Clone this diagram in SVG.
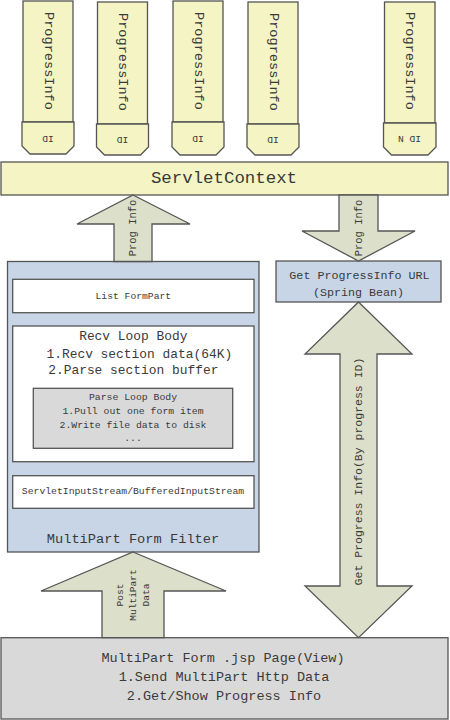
<svg xmlns="http://www.w3.org/2000/svg" width="450" height="720" viewBox="0 0 450 720">
<style>
text{font-family:"Liberation Mono","DejaVu Sans Mono",monospace;fill:#3a3a3a;text-anchor:middle;dominant-baseline:central}
.yel{fill:#F4F4C4;stroke:#555;stroke-width:1.3}
.blue{fill:#C8D5E6;stroke:#555;stroke-width:1.3}
.wht{fill:#fff;stroke:#555;stroke-width:1.3}
.gry{fill:#D9D9D9;stroke:#555;stroke-width:1.3}
.arr{fill:#DCDFC9;stroke:#555;stroke-width:1.3}
.pi{font-size:13.6px}
.id{font-size:9.6px}
</style>
<rect width="450" height="720" fill="#fff"/>
<g id="pinfo1">
<rect class="yel" x="23" y="1" width="50" height="121"/>
<polygon class="yel" points="22,122 74,122 74,146 66,154 30,154 22,146"/>
<text class="pi" transform="translate(48,61) rotate(90)">ProgressInfo</text>
<text class="id" transform="translate(48,138) rotate(180)">ID</text>
</g>
<g id="pinfo2">
<rect class="yel" x="97.5" y="2" width="50" height="122"/>
<polygon class="yel" points="96.5,124 148.5,124 148.5,147 140.5,155 104.5,155 96.5,147"/>
<text class="pi" transform="translate(122.5,62) rotate(90)">ProgressInfo</text>
<text class="id" transform="translate(122.5,139) rotate(180)">ID</text>
</g>
<g id="pinfo3">
<rect class="yel" x="173" y="1" width="50" height="121"/>
<polygon class="yel" points="172,122 224,122 224,147 216,155 180,155 172,147"/>
<text class="pi" transform="translate(198,61) rotate(90)">ProgressInfo</text>
<text class="id" transform="translate(198,138) rotate(180)">ID</text>
</g>
<g id="pinfo4">
<rect class="yel" x="248" y="2" width="50" height="122"/>
<polygon class="yel" points="247,124 299,124 299,147 291,155 255,155 247,147"/>
<text class="pi" transform="translate(273,62) rotate(90)">ProgressInfo</text>
<text class="id" transform="translate(273,139) rotate(180)">ID</text>
</g>
<g id="pinfoN">
<rect class="yel" x="384.5" y="2" width="50.5" height="121"/>
<polygon class="yel" points="383.5,123 436,123 436,147 428,155 391.5,155 383.5,147"/>
<text class="pi" transform="translate(409.5,61) rotate(90)">ProgressInfo</text>
<text class="id" transform="translate(409.5,138) rotate(180)">ID N</text>
</g>
<g id="servletcontext">
<rect class="yel" x="1" y="162" width="447" height="33"/>
<text x="224" y="178.5" style="font-size:17.4px">ServletContext</text>
</g>
<g id="filter">
<rect class="blue" x="7.5" y="261.5" width="251.5" height="290.5"/>
<rect class="wht" x="12.7" y="279.3" width="241.3" height="33.4"/>
<text x="133.3" y="296" style="font-size:9.7px">List FormPart</text>
<rect class="wht" x="12.7" y="326" width="241.3" height="135.7"/>
<text x="133.3" y="336.7" style="font-size:12.9px">Recv Loop Body</text>
<text x="139.3" y="354" style="font-size:12.9px">1.Recv section data(64K)</text>
<text x="133.3" y="370.7" style="font-size:12.9px">2.Parse section buffer</text>
<rect class="gry" x="33.3" y="388.3" width="199.4" height="60"/>
<text x="133" y="397.3" style="font-size:9.8px">Parse Loop Body</text>
<text x="133" y="411.7" style="font-size:9.8px">1.Pull out one form item</text>
<text x="133" y="425.7" style="font-size:9.8px">2.Write file data to disk</text>
<text x="133" y="438.5" style="font-size:9.8px">...</text>
<rect class="wht" x="12.7" y="475.7" width="241.3" height="32.6"/>
<text x="133" y="491.7" style="font-size:9.75px">ServletInputStream/BufferedInputStream</text>
<text x="133" y="539" style="font-size:13.7px">MultiPart Form Filter</text>
</g>
<g id="getprogress">
<rect class="blue" x="276" y="261" width="165" height="41"/>
<text x="359.5" y="276" style="font-size:11.7px">Get ProgressInfo URL</text>
<text x="358.5" y="292.5" style="font-size:11.7px">(Spring Bean)</text>
</g>
<g id="jsppage">
<rect class="gry" x="1" y="637.7" width="447" height="81.3"/>
<text x="223" y="658.3" style="font-size:13.5px">MultiPart Form .jsp Page(View)</text>
<text x="224" y="677.3" style="font-size:13.5px">1.Send MultiPart Http Data</text>
<text x="224" y="696.7" style="font-size:13.5px">2.Get/Show Progress Info</text>
</g>
<g id="connectors">
<polygon class="arr" points="133,195 190,224 152,224 152,261.5 114,261.5 114,224 77,224"/>
<text transform="translate(133,228) rotate(-90)" style="font-size:10.5px">Prog Info</text>
<polygon class="arr" points="339,195 378,195 378,231 415,231 358.5,261 302,231 339,231"/>
<text transform="translate(358.5,228) rotate(-90)" style="font-size:10.5px">Prog Info</text>
<polygon class="arr" points="358.5,302 412,354 377,354 377,586 412,586 358.5,637.7 305,586 340,586 340,354 305,354"/>
<text transform="translate(358.5,471.5) rotate(-90)" style="font-size:11.5px">Get Progress Info(By progress ID)</text>
<polygon class="arr" points="133,552 226,591 164,591 164,637.7 102,637.7 102,591 41,591"/>
<text transform="translate(120,595) rotate(-90)" style="font-size:9.5px">Post</text>
<text transform="translate(133.3,595) rotate(-90)" style="font-size:9.5px">MultiPart</text>
<text transform="translate(146.7,595) rotate(-90)" style="font-size:9.5px">Data</text>
</g>
</svg>
